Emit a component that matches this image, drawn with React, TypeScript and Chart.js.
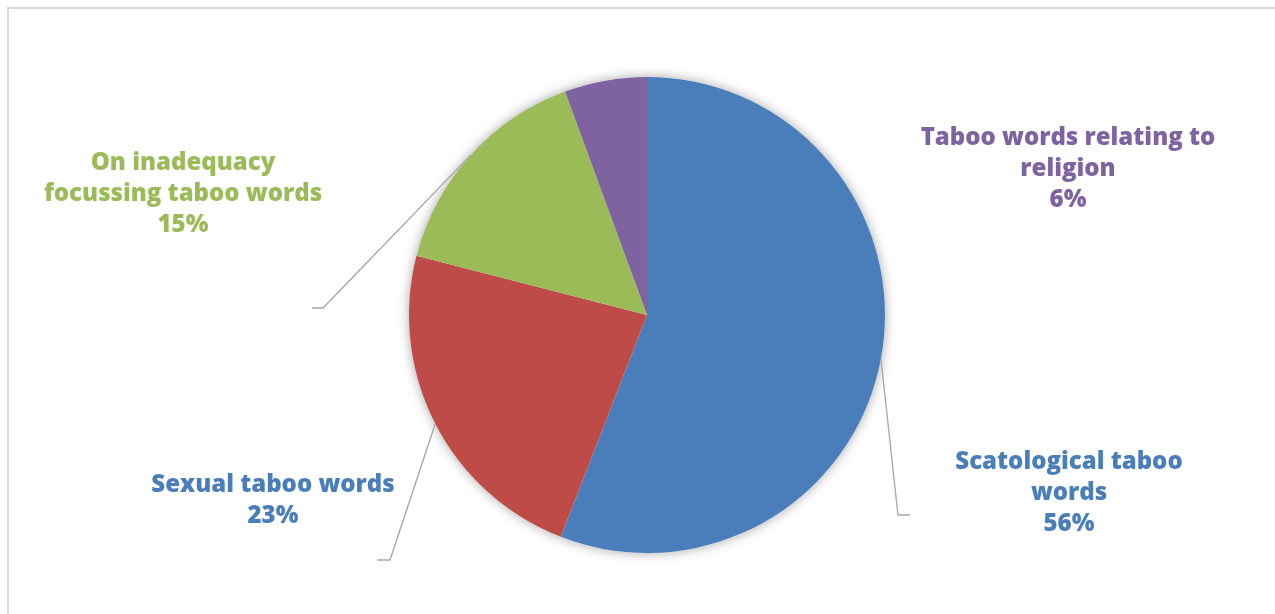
import React, { useEffect, useRef } from "react";
import { Chart, registerables } from "chart.js";

Chart.register(...registerables);

const categories = [
  "Scatological taboo words",
  "Sexual taboo words",
  "On inadequacy focussing taboo words",
  "Taboo words relating to religion",
];
const values = [55.9, 23.1, 15.4, 5.6];
const labelLines = [
  ["Scatological taboo", "words"],
  ["Sexual taboo words"],
  ["On inadequacy", "focussing taboo words"],
  ["Taboo words relating to", "religion"],
];
const sliceColors = ["#4a7ebb", "#be4b48", "#9bbb59", "#7f63a1"];
const labelColors = ["#4a7ebb", "#4a7ebb", "#9bbb59", "#7f63a1"];

// label layout (relative to pie centre): first baseline
const labelAnchors = [
  { dx: 422, dy: 154 },
  { dx: -374, dy: 177 },
  { dx: -464, dy: -145 },
  { dx: 421, dy: -170 },
];
// leader elbow (relative to pie centre) and horizontal tail
const leaders: ({ dx: number; dy: number; tail: number } | null)[] = [
  { dx: 251, dy: 200, tail: 12 },
  { dx: -257, dy: 245, tail: -13 },
  { dx: -324, dy: -7, tail: -11 },
  null,
];

const FONT = "800 24px 'Open Sans', Lato, sans-serif";
const LINE_H = 31;

const decorPlugin = {
  id: "decor",
  beforeDraw(chart: any) {
    const ctx = chart.ctx;
    ctx.save();
    ctx.fillStyle = "#ffffff";
    ctx.fillRect(0, 0, chart.width, chart.height);
    ctx.strokeStyle = "#d9d9d9";
    ctx.lineWidth = 2;
    ctx.strokeRect(8, 8, chart.width + 20, chart.height + 20);
    ctx.restore();
  },
  beforeDatasetsDraw(chart: any) {
    const meta = chart.getDatasetMeta(0);
    const arc: any = meta.data[0];
    if (!arc) return;
    const { x, y, outerRadius } = arc.getProps(["x", "y", "outerRadius"], true);
    const ctx = chart.ctx;
    ctx.save();
    ctx.shadowColor = "rgba(0,0,0,0.35)";
    ctx.shadowBlur = 12;
    ctx.fillStyle = "#ffffff";
    ctx.beginPath();
    ctx.arc(x, y, outerRadius, 0, Math.PI * 2);
    ctx.fill();
    ctx.restore();
  },
  afterDatasetsDraw(chart: any) {
    const meta = chart.getDatasetMeta(0);
    const ctx = chart.ctx;
    const data = chart.data.datasets[0].data as number[];
    const total = data.reduce((a, b) => a + b, 0);
    meta.data.forEach((el: any, i: number) => {
      const { x, y, startAngle, endAngle, outerRadius } = el.getProps(
        ["x", "y", "startAngle", "endAngle", "outerRadius"],
        true
      );
      const mid = (startAngle + endAngle) / 2;
      const ld = leaders[i];
      if (ld) {
        const sx = x + Math.cos(mid) * outerRadius;
        const sy = y + Math.sin(mid) * outerRadius;
        ctx.save();
        ctx.strokeStyle = "#a6a6a6";
        ctx.lineWidth = 1.3;
        ctx.beginPath();
        ctx.moveTo(sx, sy);
        ctx.lineTo(x + ld.dx, y + ld.dy);
        ctx.lineTo(x + ld.dx + ld.tail, y + ld.dy);
        ctx.stroke();
        ctx.restore();
      }
      const a = labelAnchors[i];
      const lines = [...labelLines[i], Math.round((data[i] / total) * 100) + "%"];
      ctx.save();
      ctx.font = FONT;
      ctx.fillStyle = labelColors[i];
      ctx.textAlign = "center";
      ctx.textBaseline = "alphabetic";
      lines.forEach((t, k) => {
        ctx.fillText(t, x + a.dx, y + a.dy + k * LINE_H);
      });
      ctx.restore();
    });
  },
};

export default function App() {
  const ref = useRef<HTMLCanvasElement | null>(null);
  useEffect(() => {
    document.body.style.margin = "0";
    if (!ref.current) return;
    const chart = new Chart(ref.current, {
      type: "pie",
      data: {
        labels: categories,
        datasets: [
          {
            data: values,
            backgroundColor: sliceColors,
            borderWidth: 0,
          },
        ],
      },
      options: {
        responsive: false,
        animation: false,
        layout: { padding: { left: 409, right: 390, top: 77, bottom: 61 } },
        plugins: {
          legend: { display: false },
          tooltip: { enabled: false },
          title: { display: false },
        },
      },
      plugins: [decorPlugin],
    });
    return () => chart.destroy();
  }, []);
  return (
    <div style={{ position: "absolute", left: 0, top: 0, width: 1275, height: 614, overflow: "hidden" }}>
      <canvas ref={ref} width={1275} height={614} style={{ width: 1275, height: 614 }} />
    </div>
  );
}
